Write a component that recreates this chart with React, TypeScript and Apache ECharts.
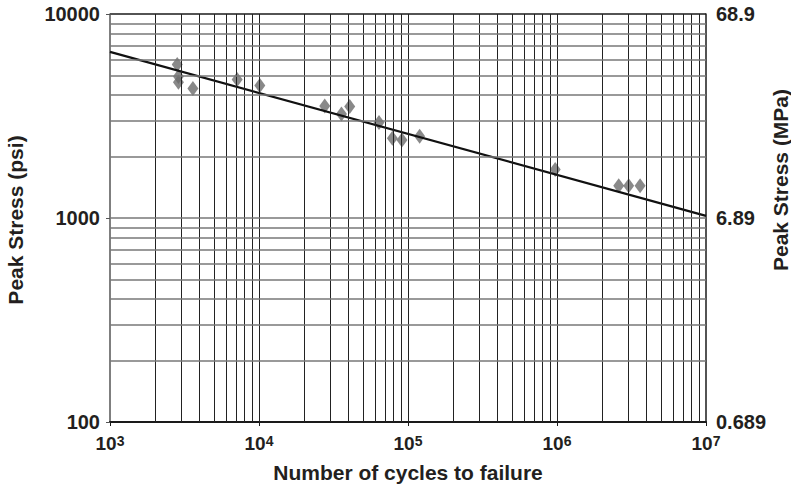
import React, { useEffect, useRef } from "react";
import * as echarts from "echarts";

// Measured data (cycles to failure vs peak stress in psi)
const cycles = [2826, 2879, 2879, 3601, 7136, 10130, 27620, 35750, 40630, 63880, 78560, 91100, 119700, 972600, 2596000, 3028000, 3611000];
const stressPsi = [5652, 4943, 4622, 4308, 4779, 4468, 3545, 3231, 3522, 2940, 2462, 2415, 2518, 1727, 1439, 1439, 1439];

// Trend line end points
const trendCycles = [1000, 10000000];
const trendStress = [6519, 1024];

// Grid lines (log paper)
const gridX = [
  2000, 3000, 4000, 5000, 6000, 7000, 8000, 9000, 10000,
  20000, 30000, 40000, 50000, 60000, 70000, 80000, 90000, 100000,
  200000, 300000, 400000, 500000, 600000, 700000, 800000, 900000, 1000000,
  2000000, 3000000, 4000000, 5000000, 6000000, 7000000, 8000000, 9000000,
];
const gridY = [
  200, 300, 400, 500, 600, 700, 800, 900, 1000,
  2000, 3000, 4000, 5000, 6000, 7000, 8000, 9000,
];

// Right-axis tick labels (MPa)
const mpaLabels = ["0.689", "6.89", "68.9"];

const FONT = "'Liberation Sans', Arial, Helvetica, sans-serif";
const TXT = "#231f20";

export default function App() {
  const ref = useRef<HTMLDivElement>(null);
  useEffect(() => {
    if (!ref.current) return;
    const chart = echarts.init(ref.current, undefined, { renderer: "svg" });
    const scatterData = cycles.map((c, i) => [c, stressPsi[i]]);
    const trendData = trendCycles.map((c, i) => [c, trendStress[i]]);
    chart.setOption({
      animation: false,
      backgroundColor: "#ffffff",
      grid: { left: 110, right: 85, top: 14, bottom: 62, containLabel: false },
      xAxis: {
        type: "log",
        logBase: 10,
        min: 1000,
        max: 10000000,
        axisLine: { show: true, lineStyle: { color: "#1a1a1a", width: 2 } },
        axisTick: { show: true, length: 4, lineStyle: { color: "#1a1a1a", width: 1 } },
        splitLine: { show: false },
        axisLabel: {
          margin: 12,
          fontFamily: FONT,
          fontSize: 19,
          fontWeight: "bold",
          color: TXT,
          formatter: (v: number) => `10{sup|${Math.round(Math.log10(v))}}`,
          rich: {
            sup: { fontFamily: FONT, fontSize: 14, fontWeight: "bold", color: TXT, verticalAlign: "top", lineHeight: 12 },
          },
        },
        name: "Number of cycles to failure",
        nameLocation: "middle",
        nameGap: 40,
        nameTextStyle: { fontFamily: FONT, fontSize: 21, fontWeight: "bold", color: TXT },
      },
      yAxis: [
        {
          type: "log",
          logBase: 10,
          min: 100,
          max: 10000,
          axisLine: { show: true, lineStyle: { color: "#555", width: 1.5 } },
          axisTick: { show: true, length: 4, lineStyle: { color: "#555" } },
          splitLine: { show: false },
          axisLabel: {
            margin: 10,
            fontFamily: FONT,
            fontSize: 20,
            fontWeight: "bold",
            color: TXT,
            formatter: (v: number) => String(Math.round(v)),
          },
        },
        {
          type: "value",
          min: 0,
          max: 2,
          interval: 1,
          position: "right",
          axisLine: { show: true, lineStyle: { color: "#1a1a1a", width: 1.5 } },
          axisTick: { show: false },
          splitLine: { show: false },
          axisLabel: {
            margin: 10,
            fontFamily: FONT,
            fontSize: 20,
            fontWeight: "bold",
            color: TXT,
            formatter: (v: number) => mpaLabels[Math.round(v)],
          },
        },
      ],
      graphic: [
        {
          type: "text",
          x: 15,
          y: 220,
          rotation: Math.PI / 2,
          style: { text: "Peak Stress (psi)", font: `bold 21px ${FONT}`, fill: TXT, align: "center", verticalAlign: "middle" },
        },
        {
          type: "text",
          x: 780,
          y: 180,
          rotation: Math.PI / 2,
          style: { text: "Peak Stress (MPa)", font: `bold 21px ${FONT}`, fill: TXT, align: "center", verticalAlign: "middle" },
        },
        {
          type: "line",
          shape: { x1: 110, y1: 14, x2: 706, y2: 14 },
          style: { stroke: "#1a1a1a", lineWidth: 1.5 },
        },
      ],
      series: [
        {
          type: "line",
          z: 1,
          data: [],
          silent: true,
          markLine: {
            silent: true,
            symbol: "none",
            label: { show: false },
            animation: false,
            data: [
              ...gridX.map((v) => ({ xAxis: v, lineStyle: { color: "#222", width: 1, type: "solid" } })),
              ...gridY.map((v) => ({ yAxis: v, lineStyle: { color: "#777", width: 1.5, type: "solid" } })),
            ],
          },
        },
        {
          type: "scatter",
          z: 3,
          symbol: "diamond",
          symbolSize: [11, 15],
          itemStyle: { color: "#6b6b6b" },
          data: scatterData,
        },
        {
          type: "line",
          z: 4,
          symbol: "none",
          lineStyle: { color: "#111", width: 2.2 },
          data: trendData,
        },
      ],
    });
    return () => chart.dispose();
  }, []);
  return <div ref={ref} style={{ width: 791, height: 488, position: "absolute", left: 0, top: 0 }} />;
}
